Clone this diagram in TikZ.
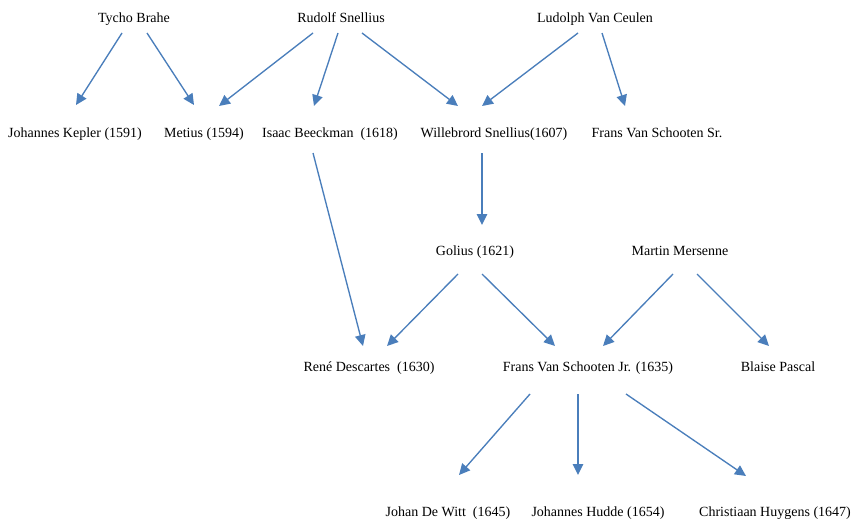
\documentclass[tikz,border=0pt]{standalone}
\usepackage{fontspec}
\setmainfont{Liberation Serif}
\usetikzlibrary{arrows.meta}
\definecolor{arrblue}{HTML}{4A7EBB}
\tikzset{
  person/.style={inner sep=0pt, text height=9.5pt, text depth=3pt, yshift=-1.3pt, font=\fontsize{14}{16}\selectfont, text=black},
  arr/.style={draw=arrblue, line width=1.35pt, -{Triangle[length=11pt,width=10.5pt]}}
}
\begin{document}
\begin{tikzpicture}[x=1pt,y=-1pt]
\useasboundingbox (0,0) rectangle (853,519);
% row 1
\node[person] (tycho)   at (134,18) {Tycho Brahe};
\node[person] (rudolf)  at (341,18) {Rudolf Snellius};
\node[person] (ludolph) at (595,18) {Ludolph Van Ceulen};
% row 2
\node[person] (kepler)     at (75,133)  {Johannes Kepler (1591)};
\node[person] (metius)     at (204,133) {Metius (1594)};
\node[person] (beeckman)   at (330,133) {Isaac Beeckman~ (1618)};
\node[person] (willebrord) at (494,133) {Willebrord Snellius(1607)};
\node[person] (franssr)    at (657,133) {Frans Van Schooten Sr.};
% row 3
\node[person] (golius)   at (475,251) {Golius (1621)};
\node[person] (mersenne) at (680,251) {Martin Mersenne};
% row 4
\node[person] (descartes) at (369,367) {René Descartes~ (1630)};
\node[person] (fransjr)   at (588,367) {Frans Van Schooten Jr. (1635)};
\node[person] (pascal)    at (778,367) {Blaise Pascal};
% row 5
\node[person] (dewitt)  at (448,512) {Johan De Witt~ (1645)};
\node[person] (hudde)   at (598,512) {Johannes Hudde (1654)};
\node[person] (huygens) at (775,512) {Christiaan Huygens (1647)};
% connector ends
\coordinate (tk1) at (122,33);  \coordinate (tk2) at (76,105);
\coordinate (tm1) at (147,33);  \coordinate (tm2) at (194,105);
\coordinate (rm1) at (313,33);  \coordinate (rm2) at (219,106);
\coordinate (rb1) at (338,33);  \coordinate (rb2) at (314,106);
\coordinate (rw1) at (362,33);  \coordinate (rw2) at (458,106);
\coordinate (lw1) at (578,33);  \coordinate (lw2) at (482,106);
\coordinate (ls1) at (602,33);  \coordinate (ls2) at (625,106);
\coordinate (bd1) at (313,153); \coordinate (bd2) at (363,346);
\coordinate (wg1) at (482,153); \coordinate (wg2) at (482,225);
\coordinate (gd1) at (458,274); \coordinate (gd2) at (387,346);
\coordinate (gj1) at (482,274); \coordinate (gj2) at (555,346);
\coordinate (mj1) at (673,274); \coordinate (mj2) at (603,346);
\coordinate (mp1) at (697,274); \coordinate (mp2) at (769,346);
\coordinate (jd1) at (530,394); \coordinate (jd2) at (459,475);
\coordinate (jh1) at (578,394); \coordinate (jh2) at (578,475);
\coordinate (jy1) at (626,394); \coordinate (jy2) at (746,476);
% connectors
\draw[arr] (tk1) -- (tk2);
\draw[arr] (tm1) -- (tm2);
\draw[arr] (rm1) -- (rm2);
\draw[arr] (rb1) -- (rb2);
\draw[arr] (rw1) -- (rw2);
\draw[arr] (lw1) -- (lw2);
\draw[arr] (ls1) -- (ls2);
\draw[arr] (bd1) -- (bd2);
\draw[arr] (wg1) -- (wg2);
\draw[arr] (gd1) -- (gd2);
\draw[arr] (gj1) -- (gj2);
\draw[arr] (mj1) -- (mj2);
\draw[arr] (mp1) -- (mp2);
\draw[arr] (jd1) -- (jd2);
\draw[arr] (jh1) -- (jh2);
\draw[arr] (jy1) -- (jy2);
\end{tikzpicture}
\end{document}
